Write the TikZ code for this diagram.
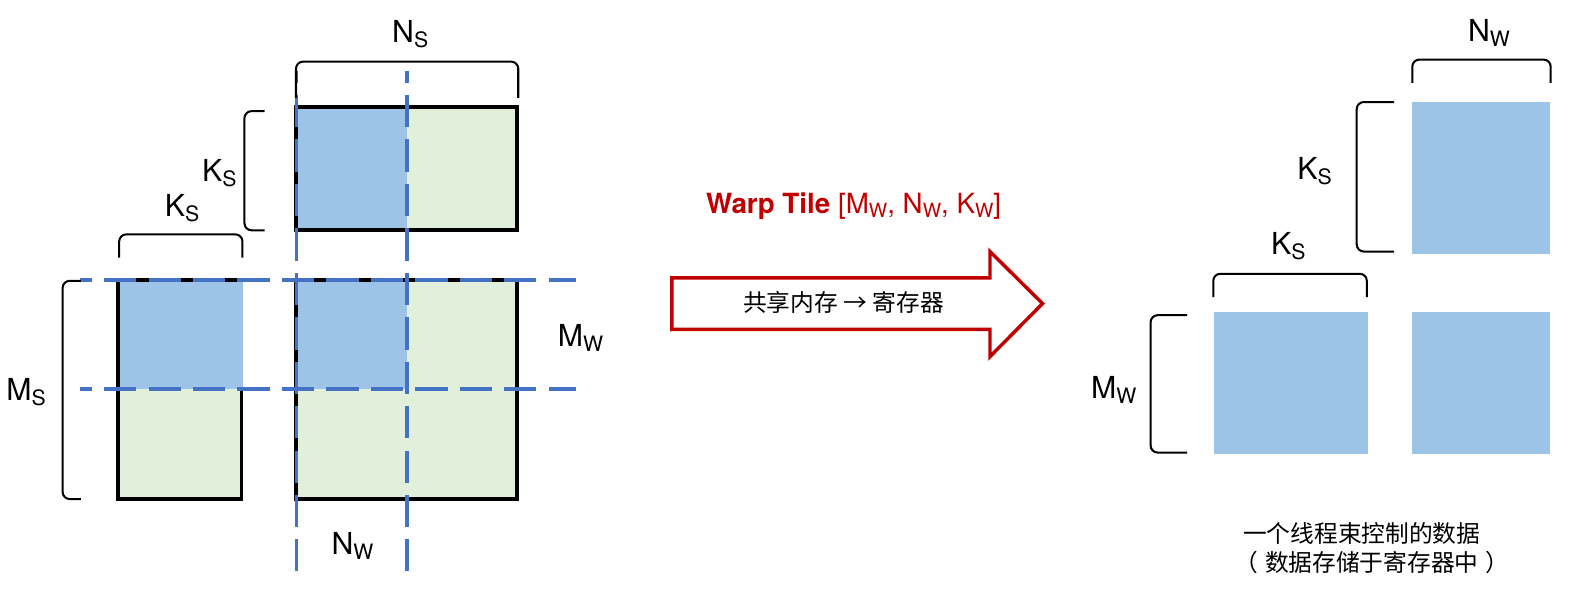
\documentclass[tikz,border=0pt]{standalone}
\usepackage{fontspec}
\setmainfont{TeX Gyre Heros}
\newfontfamily\cjk{Noto Sans CJK SC}
\usetikzlibrary{positioning}
\definecolor{tilegreen}{HTML}{E2EFDA}
\definecolor{tileblue}{HTML}{9DC3E6}
\definecolor{cutblue}{HTML}{4472C4}
\definecolor{warpred}{HTML}{C00000}
\newcommand{\lsub}[1]{\raisebox{-0.17em}{\scalebox{0.7}{#1}}}

\begin{document}
\begin{tikzpicture}[
    x=1pt, y=-1pt,
    dimtext/.style={font=\fontsize{30}{30}\selectfont, inner sep=0pt, anchor=base west},
    cjktext/.style={font=\cjk\fontsize{23.5}{29}\selectfont, inner sep=0pt, align=center},
    bracket/.style={line width=2pt, rounded corners=7pt},
    border/.style={draw=black, line width=3.7pt},
    cut/.style={cutblue, line width=3.6pt, dash pattern=on 32pt off 12pt, dash phase=20pt},
    bigarrow/.style={draw=warpred, fill=white, line width=3.4pt, line join=miter}
]
\useasboundingbox (0,0) rectangle (1568,604);

% --- shared memory tiles (left) ---
\fill[tilegreen] (117,277) rectangle (239,494);
\fill[tilegreen] (293,106) rectangle (512,228);
\fill[tilegreen] (293,277) rectangle (512,494);
\fill[tileblue] (293,106) rectangle (403,228);
\fill[tileblue] (293,277) rectangle (403,385);
\draw[border] (117,277) rectangle (239,494);
\draw[border] (293,106) rectangle (512,228);
\draw[border] (293,277) rectangle (512,494);
\fill[tileblue] (118.8,278.8) rectangle (240.8,385);

% warp cuts
\draw[cut] (293.5,70) -- (293.5,565);
\draw[cut] (403,70) -- (403,565);
\draw[cut] (79,277) -- (570,277);
\draw[cut] (79,385) -- (570,385);

% brackets
\draw[bracket] (293,97) -- (293,61) -- (513,61) -- (513,97);
\draw[bracket] (262,110) -- (242,110) -- (242,228) -- (262,228);
\draw[bracket] (118,255) -- (118,232) -- (240,232) -- (240,255);
\draw[bracket] (80,278) -- (62,278) -- (62,494) -- (80,494);

\node (ns)  [dimtext] at (388,42)  {N\lsub{S}};
\node (ksb) [dimtext] at (200,180) {K\lsub{S}};
\node (ksa) [dimtext] at (163,214) {K\lsub{S}};
\node (ms)  [dimtext] at (6,396)   {M\lsub{S}};
\node (mw)  [dimtext] at (552,343) {M\lsub{W}};
\node (nw)  [dimtext] at (328,549) {N\lsub{W}};

% --- transfer arrow ---
\node (title) [font=\fontsize{27.5}{27.5}\selectfont, text=warpred, inner sep=0pt, anchor=base] at (845,211)
    {\textbf{Warp Tile} [M\lsub{W}, N\lsub{W}, K\lsub{W}]};
\draw[bigarrow] (665,275) -- (980,275) -- (980,249) -- (1032,300.5)
    -- (980,353) -- (980,326) -- (665,326) -- cycle;
\node (move) [cjktext] at (835,299) {共享内存 → 寄存器};

% --- register tiles (right) ---
\fill[tileblue] (1398,101) rectangle (1534,251);
\fill[tileblue] (1202,309) rectangle (1354,449);
\fill[tileblue] (1398,309) rectangle (1534,449);

\draw[bracket] (1398,82) -- (1398,59) -- (1535,59) -- (1535,82);
\draw[bracket] (1380,101) -- (1343,101) -- (1343,249) -- (1380,249);
\draw[bracket] (1201,294) -- (1201,271) -- (1353,271) -- (1353,294);
\draw[bracket] (1175,312) -- (1139,312) -- (1139,448) -- (1175,448);

\node (nwr) [dimtext] at (1453,41)  {N\lsub{W}};
\node (ksr) [dimtext] at (1284,178) {K\lsub{S}};
\node (ksl) [dimtext] at (1258,252) {K\lsub{S}};
\node (mwr) [dimtext] at (1080,394) {M\lsub{W}};

\node (note)  [cjktext] at (1348,528) {一个线程束控制的数据};
\node (note2) [cjktext] at (1358,557) {（\hspace{7pt}数据存储于寄存器中\hspace{7pt}）};

\end{tikzpicture}
\end{document}
